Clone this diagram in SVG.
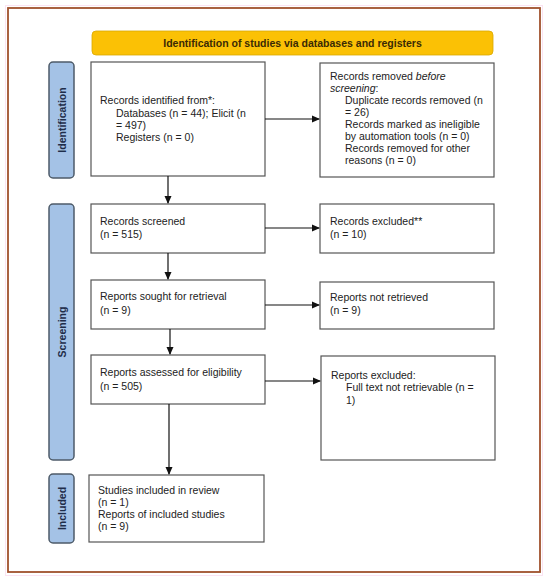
<svg xmlns="http://www.w3.org/2000/svg" width="550" height="580" viewBox="0 0 550 580">
<defs>
<marker id="ah" markerWidth="8" markerHeight="8" refX="7" refY="4" orient="auto" markerUnits="userSpaceOnUse">
<path d="M0,0.5 L8,4 L0,7.5 Z" fill="#111"/>
</marker>
</defs>
<style>
.box{fill:#fff;stroke:#555;stroke-width:1.2}
.side{fill:#a4c2e6;stroke:#4d5b69;stroke-width:1.5}
.t{font-family:"Liberation Sans",Arial,sans-serif;font-size:10.5px;fill:#222}
.st{font-family:"Liberation Sans",Arial,sans-serif;font-size:10.5px;font-weight:bold;fill:#1f2d4a}
.ln{stroke:#111;stroke-width:1.2;fill:none}
</style>
<rect x="0" y="0" width="550" height="580" fill="#fff"/>
<rect x="5.5" y="5.5" width="537" height="570" fill="none" stroke="#fbe3f2" stroke-width="1"/>
<rect x="8" y="8" width="532" height="564" fill="none" stroke="#a0522d" stroke-width="1.8"/>

<g id="header">
<rect x="92" y="31" width="401" height="24" rx="4" fill="#fbc105" stroke="#d9a800" stroke-width="0.8"/>
<text x="292.5" y="47" text-anchor="middle" font-family="Liberation Sans,Arial,sans-serif" font-size="10.5" font-weight="bold" fill="#3a2a05">Identification of studies via databases and registers</text>
</g>

<g id="side-identification">
<rect class="side" x="49" y="62" width="25" height="116" rx="4"/>
<text class="st" transform="translate(65.5,120) rotate(-90)" text-anchor="middle">Identification</text>
</g>
<g id="side-screening">
<rect class="side" x="49" y="204" width="25" height="256" rx="4"/>
<text class="st" transform="translate(65.5,332) rotate(-90)" text-anchor="middle">Screening</text>
</g>
<g id="side-included">
<rect class="side" x="49" y="474" width="25" height="69" rx="4"/>
<text class="st" transform="translate(65.5,508.5) rotate(-90)" text-anchor="middle">Included</text>
</g>

<g id="records-identified">
<rect class="box" x="91" y="62" width="174" height="114"/>
<text class="t" x="100" y="104">Records identified from*:</text>
<text class="t" x="116" y="117">Databases (n = 44); Elicit (n</text>
<text class="t" x="116" y="129">= 497)</text>
<text class="t" x="116" y="141">Registers (n = 0)</text>
</g>

<g id="records-removed">
<rect class="box" x="320" y="63" width="174" height="114"/>
<text class="t" x="330" y="80">Records removed <tspan font-style="italic">before</tspan></text>
<text class="t" x="330" y="92"><tspan font-style="italic">screening</tspan>:</text>
<text class="t" x="345" y="104">Duplicate records removed (n</text>
<text class="t" x="345" y="116">= 26)</text>
<text class="t" x="345" y="128">Records marked as ineligible</text>
<text class="t" x="345" y="140">by automation tools (n = 0)</text>
<text class="t" x="345" y="152">Records removed for other</text>
<text class="t" x="345" y="164">reasons (n = 0)</text>
</g>

<g id="records-screened">
<rect class="box" x="91" y="204" width="174" height="49"/>
<text class="t" x="100" y="225">Records screened</text>
<text class="t" x="100" y="238">(n = 515)</text>
</g>

<g id="records-excluded">
<rect class="box" x="320" y="204" width="174" height="49"/>
<text class="t" x="330" y="225">Records excluded**</text>
<text class="t" x="330" y="238">(n = 10)</text>
</g>

<g id="reports-sought">
<rect class="box" x="91" y="280" width="174" height="49"/>
<text class="t" x="100" y="300">Reports sought for retrieval</text>
<text class="t" x="100" y="314">(n = 9)</text>
</g>

<g id="reports-not-retrieved">
<rect class="box" x="320" y="282" width="174" height="47"/>
<text class="t" x="330" y="301">Reports not retrieved</text>
<text class="t" x="330" y="314">(n = 9)</text>
</g>

<g id="reports-assessed">
<rect class="box" x="91" y="355" width="174" height="49"/>
<text class="t" x="100" y="376">Reports assessed for eligibility</text>
<text class="t" x="100" y="390">(n = 505)</text>
</g>

<g id="reports-excluded">
<rect class="box" x="321" y="356" width="174" height="104"/>
<text class="t" x="331" y="379">Reports excluded:</text>
<text class="t" x="346" y="391">Full text not retrievable (n =</text>
<text class="t" x="346" y="404">1)</text>
</g>

<g id="studies-included">
<rect class="box" x="89" y="475" width="175" height="67"/>
<text class="t" x="98" y="494">Studies included in review</text>
<text class="t" x="98" y="506">(n = 1)</text>
<text class="t" x="98" y="518">Reports of included studies</text>
<text class="t" x="98" y="530">(n = 9)</text>
</g>

<g id="connectors">
<line class="ln" x1="265" y1="119" x2="319" y2="119" marker-end="url(#ah)"/>
<line class="ln" x1="168" y1="176" x2="168" y2="203" marker-end="url(#ah)"/>
<line class="ln" x1="265" y1="228" x2="319" y2="228" marker-end="url(#ah)"/>
<line class="ln" x1="168" y1="253" x2="168" y2="279" marker-end="url(#ah)"/>
<line class="ln" x1="265" y1="305" x2="319" y2="305" marker-end="url(#ah)"/>
<line class="ln" x1="170" y1="329" x2="170" y2="354" marker-end="url(#ah)"/>
<line class="ln" x1="265" y1="381" x2="320" y2="381" marker-end="url(#ah)"/>
<line class="ln" x1="169" y1="404" x2="169" y2="474" marker-end="url(#ah)"/>
</g>
</svg>
